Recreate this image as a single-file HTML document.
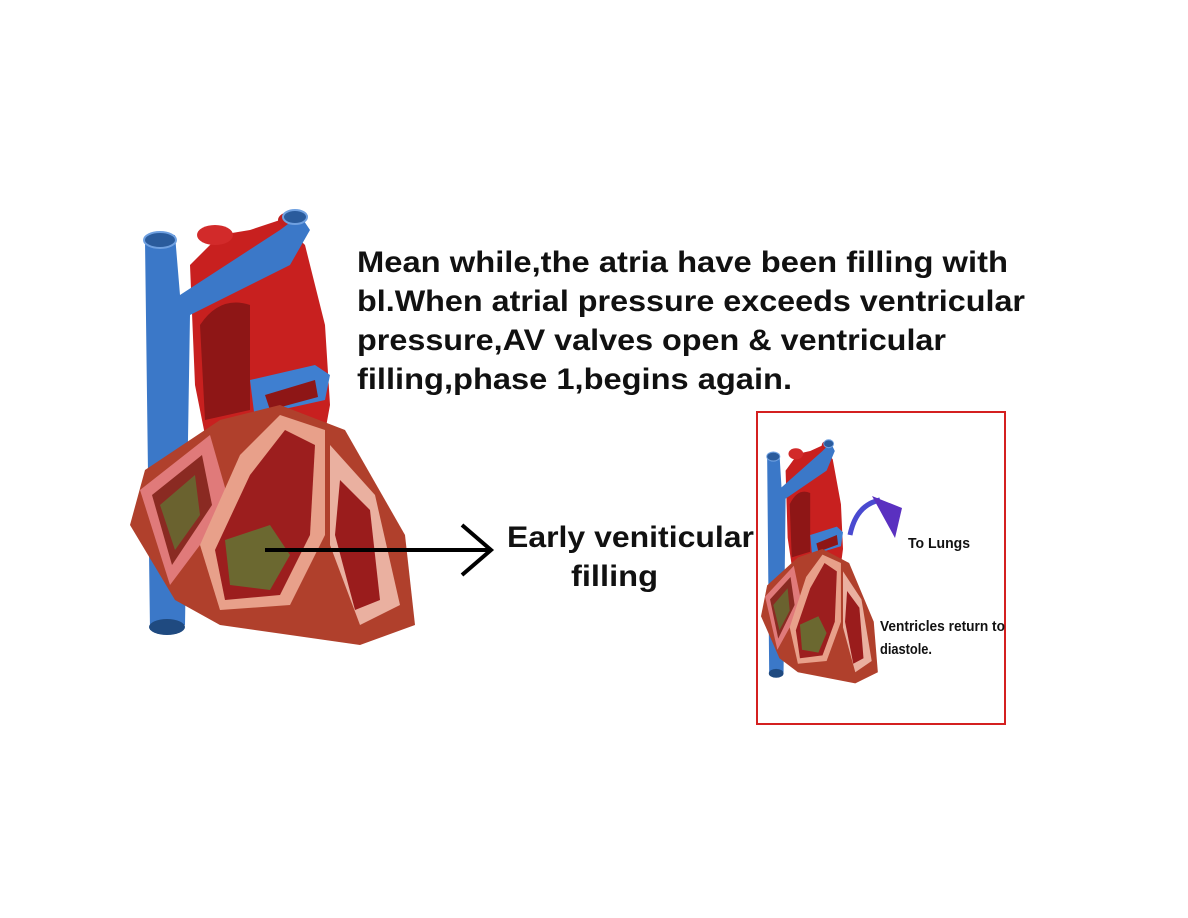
<!DOCTYPE html>
<html><head><meta charset="utf-8"><style>
html,body{margin:0;padding:0;background:#fff;width:1188px;height:918px;overflow:hidden}
svg{display:block}
text{font-family:"Liberation Sans",Arial,sans-serif;font-weight:bold;fill:#111}
</style></head><body>
<svg width="1188" height="918" viewBox="0 0 1188 918">
<defs>
<g id="heart">
  <path d="M60,60 L90,30 L120,25 L150,15 L175,40 L195,120 L200,200 L190,255 L80,255 L65,180 Z" fill="#c8201f"/>
  <path d="M70,120 Q90,90 120,100 L120,205 L75,215 Z" fill="#8e1616"/>
  <ellipse cx="85" cy="30" rx="18" ry="10" fill="#d22a2a"/>
  <ellipse cx="160" cy="15" rx="12" ry="8" fill="#c02020"/>
  <path d="M15,35 L45,30 L50,90 L150,25 L170,10 L180,25 L160,60 L60,110 L55,420 L20,425 Z" fill="#3b78c8"/>
  <ellipse cx="30" cy="35" rx="16" ry="8" fill="#2a5b9c" stroke="#6fa0e0" stroke-width="2"/>
  <ellipse cx="165" cy="12" rx="12" ry="7" fill="#2a5b9c" stroke="#6fa0e0" stroke-width="2"/>
  <ellipse cx="37" cy="422" rx="18" ry="8" fill="#1f4a80"/>
  <path d="M120,175 L185,160 L200,170 L195,195 L150,205 L125,215 Z" fill="#3f7fd0"/>
  <path d="M135,190 L185,175 L188,192 L140,205 Z" fill="#8e1616"/>
  <path d="M15,265 L90,215 L150,200 L215,225 L275,330 L285,420 L230,440 L90,420 L45,395 L0,320 Z" fill="#b0402c"/>
  <path d="M10,285 L80,230 L100,300 L40,380 Z" fill="#e07a7a"/>
  <path d="M22,290 L72,250 L82,300 L42,360 Z" fill="#8a2a22"/>
  <path d="M30,300 L65,270 L70,310 L45,345 Z" fill="#5c7a34" opacity=".7"/>
  <path d="M70,340 L110,250 L150,210 L195,225 L195,330 L160,400 L90,405 Z" fill="#e8a08a"/>
  <path d="M85,345 L120,270 L155,225 L185,240 L180,330 L150,390 L95,395 Z" fill="#9c1e1e"/>
  <path d="M95,335 L140,320 L160,350 L140,385 L100,380 Z" fill="#5f7a35" opacity=".8"/>
  <path d="M200,240 L245,290 L270,400 L230,420 L200,340 Z" fill="#eab0a0"/>
  <path d="M210,275 L240,305 L250,395 L225,405 L205,330 Z" fill="#9a1c1c"/>
</g>
</defs>

<use href="#heart" transform="translate(130,205)"/>

<g font-size="30">
<text x="357" y="272" textLength="651" lengthAdjust="spacingAndGlyphs">Mean while,the atria have been filling with</text>
<text x="357" y="311" textLength="668" lengthAdjust="spacingAndGlyphs">bl.When atrial pressure exceeds ventricular</text>
<text x="357" y="350" textLength="589" lengthAdjust="spacingAndGlyphs">pressure,AV valves open &amp; ventricular</text>
<text x="357" y="389" textLength="435" lengthAdjust="spacingAndGlyphs">filling,phase 1,begins again.</text>
<text x="507" y="547" textLength="247" lengthAdjust="spacingAndGlyphs">Early veniticular</text>
<text x="571" y="586" textLength="87" lengthAdjust="spacingAndGlyphs">filling</text>
</g>

<line x1="265" y1="550" x2="490" y2="550" stroke="#000" stroke-width="4"/>
<polyline points="462,525 491,550 462,575" fill="none" stroke="#000" stroke-width="4"/>

<rect x="757" y="412" width="248" height="312" fill="none" stroke="#d42020" stroke-width="2"/>
<use href="#heart" transform="translate(761,437) scale(0.41,0.56)"/>
<path d="M850,535 Q856,505 880,500" fill="none" stroke="#4a4ad0" stroke-width="5"/>
<path d="M872,496 L902,508 L895,538 Z" fill="#5a30c0"/>
<text font-size="15" x="908" y="548" textLength="62" lengthAdjust="spacingAndGlyphs">To Lungs</text>
<text font-size="15" x="880" y="631" textLength="125" lengthAdjust="spacingAndGlyphs">Ventricles return to</text>
<text font-size="15" x="880" y="654" textLength="52" lengthAdjust="spacingAndGlyphs">diastole.</text>
</svg>
</body></html>
